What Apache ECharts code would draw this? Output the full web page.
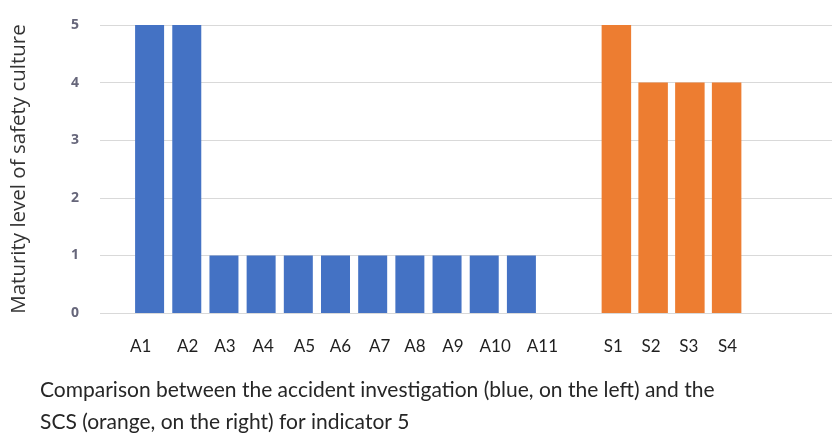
<!DOCTYPE html>
<html>
<head>
<meta charset="utf-8">
<script src="https://cdn.jsdelivr.net/npm/echarts@6/dist/echarts.min.js"></script>
<style>
  html, body { margin: 0; padding: 0; background: #fff; }
  #chart { width: 832px; height: 434px; }
</style>
</head>
<body>
<div id="chart"></div>
<script>
// Accident investigation scores (blue) and SCS scores (orange), indicator 5
const accidentCategories = ['A1', 'A2', 'A3', 'A4', 'A5', 'A6', 'A7', 'A8', 'A9', 'A10', 'A11'];
const accidentValues = [5, 5, 1, 1, 1, 1, 1, 1, 1, 1, 1];
const scsCategories = ['S1', 'S2', 'S3', 'S4'];
const scsValues = [5, 4, 4, 4];
const yTicks = [0, 1, 2, 3, 4, 5];
const yAxisTitle = 'Maturity level of safety culture';
const captionLines = [
  'Comparison between the accident investigation (blue, on the left) and the',
  'SCS (orange, on the right) for indicator 5'
];

// horizontal nudges (px) applied to individual category labels
const accidentLabelShift = [-9, 1, 1, 2, 6, 5, 7, 5, 6, 11, 21];
const scsLabelShift = [-3, -2, -1, 1];

function richFor(prefix, shifts) {
  const rich = {};
  shifts.forEach((dx, i) => {
    rich[prefix + i] = {
      padding: dx >= 0 ? [0, 0, 0, 2 * dx] : [0, -2 * dx, 0, 0],
      fontFamily: 'Lato',
      fontSize: 17,
      color: '#1f1f1f'
    };
  });
  return rich;
}
function labelFormatter(prefix, cats) {
  return (value) => '{' + prefix + cats.indexOf(value) + '|' + value + '}';
}

const TOP = 25, BOTTOM = 121;
const yMin = yTicks[0], yMax = yTicks[yTicks.length - 1];

const chart = echarts.init(document.getElementById('chart'), null, { renderer: 'canvas' });
chart.setOption({
  animation: false,
  backgroundColor: '#ffffff',
  grid: [
    { left: 100, right: 0, top: TOP, bottom: BOTTOM },
    { left: 131, width: 409, top: TOP, bottom: BOTTOM },
    { left: 598, width: 147, top: TOP, bottom: BOTTOM }
  ],
  xAxis: [
    { gridIndex: 0, type: 'category', data: [''], show: false },
    {
      gridIndex: 1, type: 'category', data: accidentCategories,
      axisLine: { show: false }, axisTick: { show: false },
      axisLabel: {
        margin: 25, interval: 0,
        formatter: labelFormatter('a', accidentCategories),
        rich: richFor('a', accidentLabelShift)
      }
    },
    {
      gridIndex: 2, type: 'category', data: scsCategories,
      axisLine: { show: false }, axisTick: { show: false },
      axisLabel: {
        margin: 25, interval: 0,
        formatter: labelFormatter('s', scsCategories),
        rich: richFor('s', scsLabelShift)
      }
    }
  ],
  yAxis: [
    {
      gridIndex: 0, type: 'value', min: yMin, max: yMax, interval: 1,
      name: yAxisTitle, nameLocation: 'middle', nameGap: 70,
      nameTextStyle: { fontFamily: 'Open Sans', fontSize: 20.5, color: '#333333' },
      axisLine: { show: false }, axisTick: { show: false },
      axisLabel: { margin: 21, fontFamily: 'Open Sans', fontSize: 14, fontWeight: 'bold', color: '#66667a' },
      splitLine: { lineStyle: { color: '#d9d9d9', width: 1 } }
    },
    { gridIndex: 1, type: 'value', min: yMin, max: yMax, interval: 1, show: false },
    { gridIndex: 2, type: 'value', min: yMin, max: yMax, interval: 1, show: false }
  ],
  series: [
    {
      type: 'bar', name: 'Accident investigation',
      xAxisIndex: 1, yAxisIndex: 1,
      data: accidentValues, barWidth: 29,
      itemStyle: { color: '#4472c4' }
    },
    {
      type: 'bar', name: 'SCS',
      xAxisIndex: 2, yAxisIndex: 2,
      data: scsValues, barWidth: 29.5,
      itemStyle: { color: '#ed7d31' }
    }
  ],
  graphic: [
    {
      type: 'text', left: 40, top: 374,
      style: {
        text: captionLines.join('\n'),
        fontFamily: 'Lato', fontSize: 21, lineHeight: 32,
        fill: '#262626'
      }
    }
  ]
});
</script>
</body>
</html>
